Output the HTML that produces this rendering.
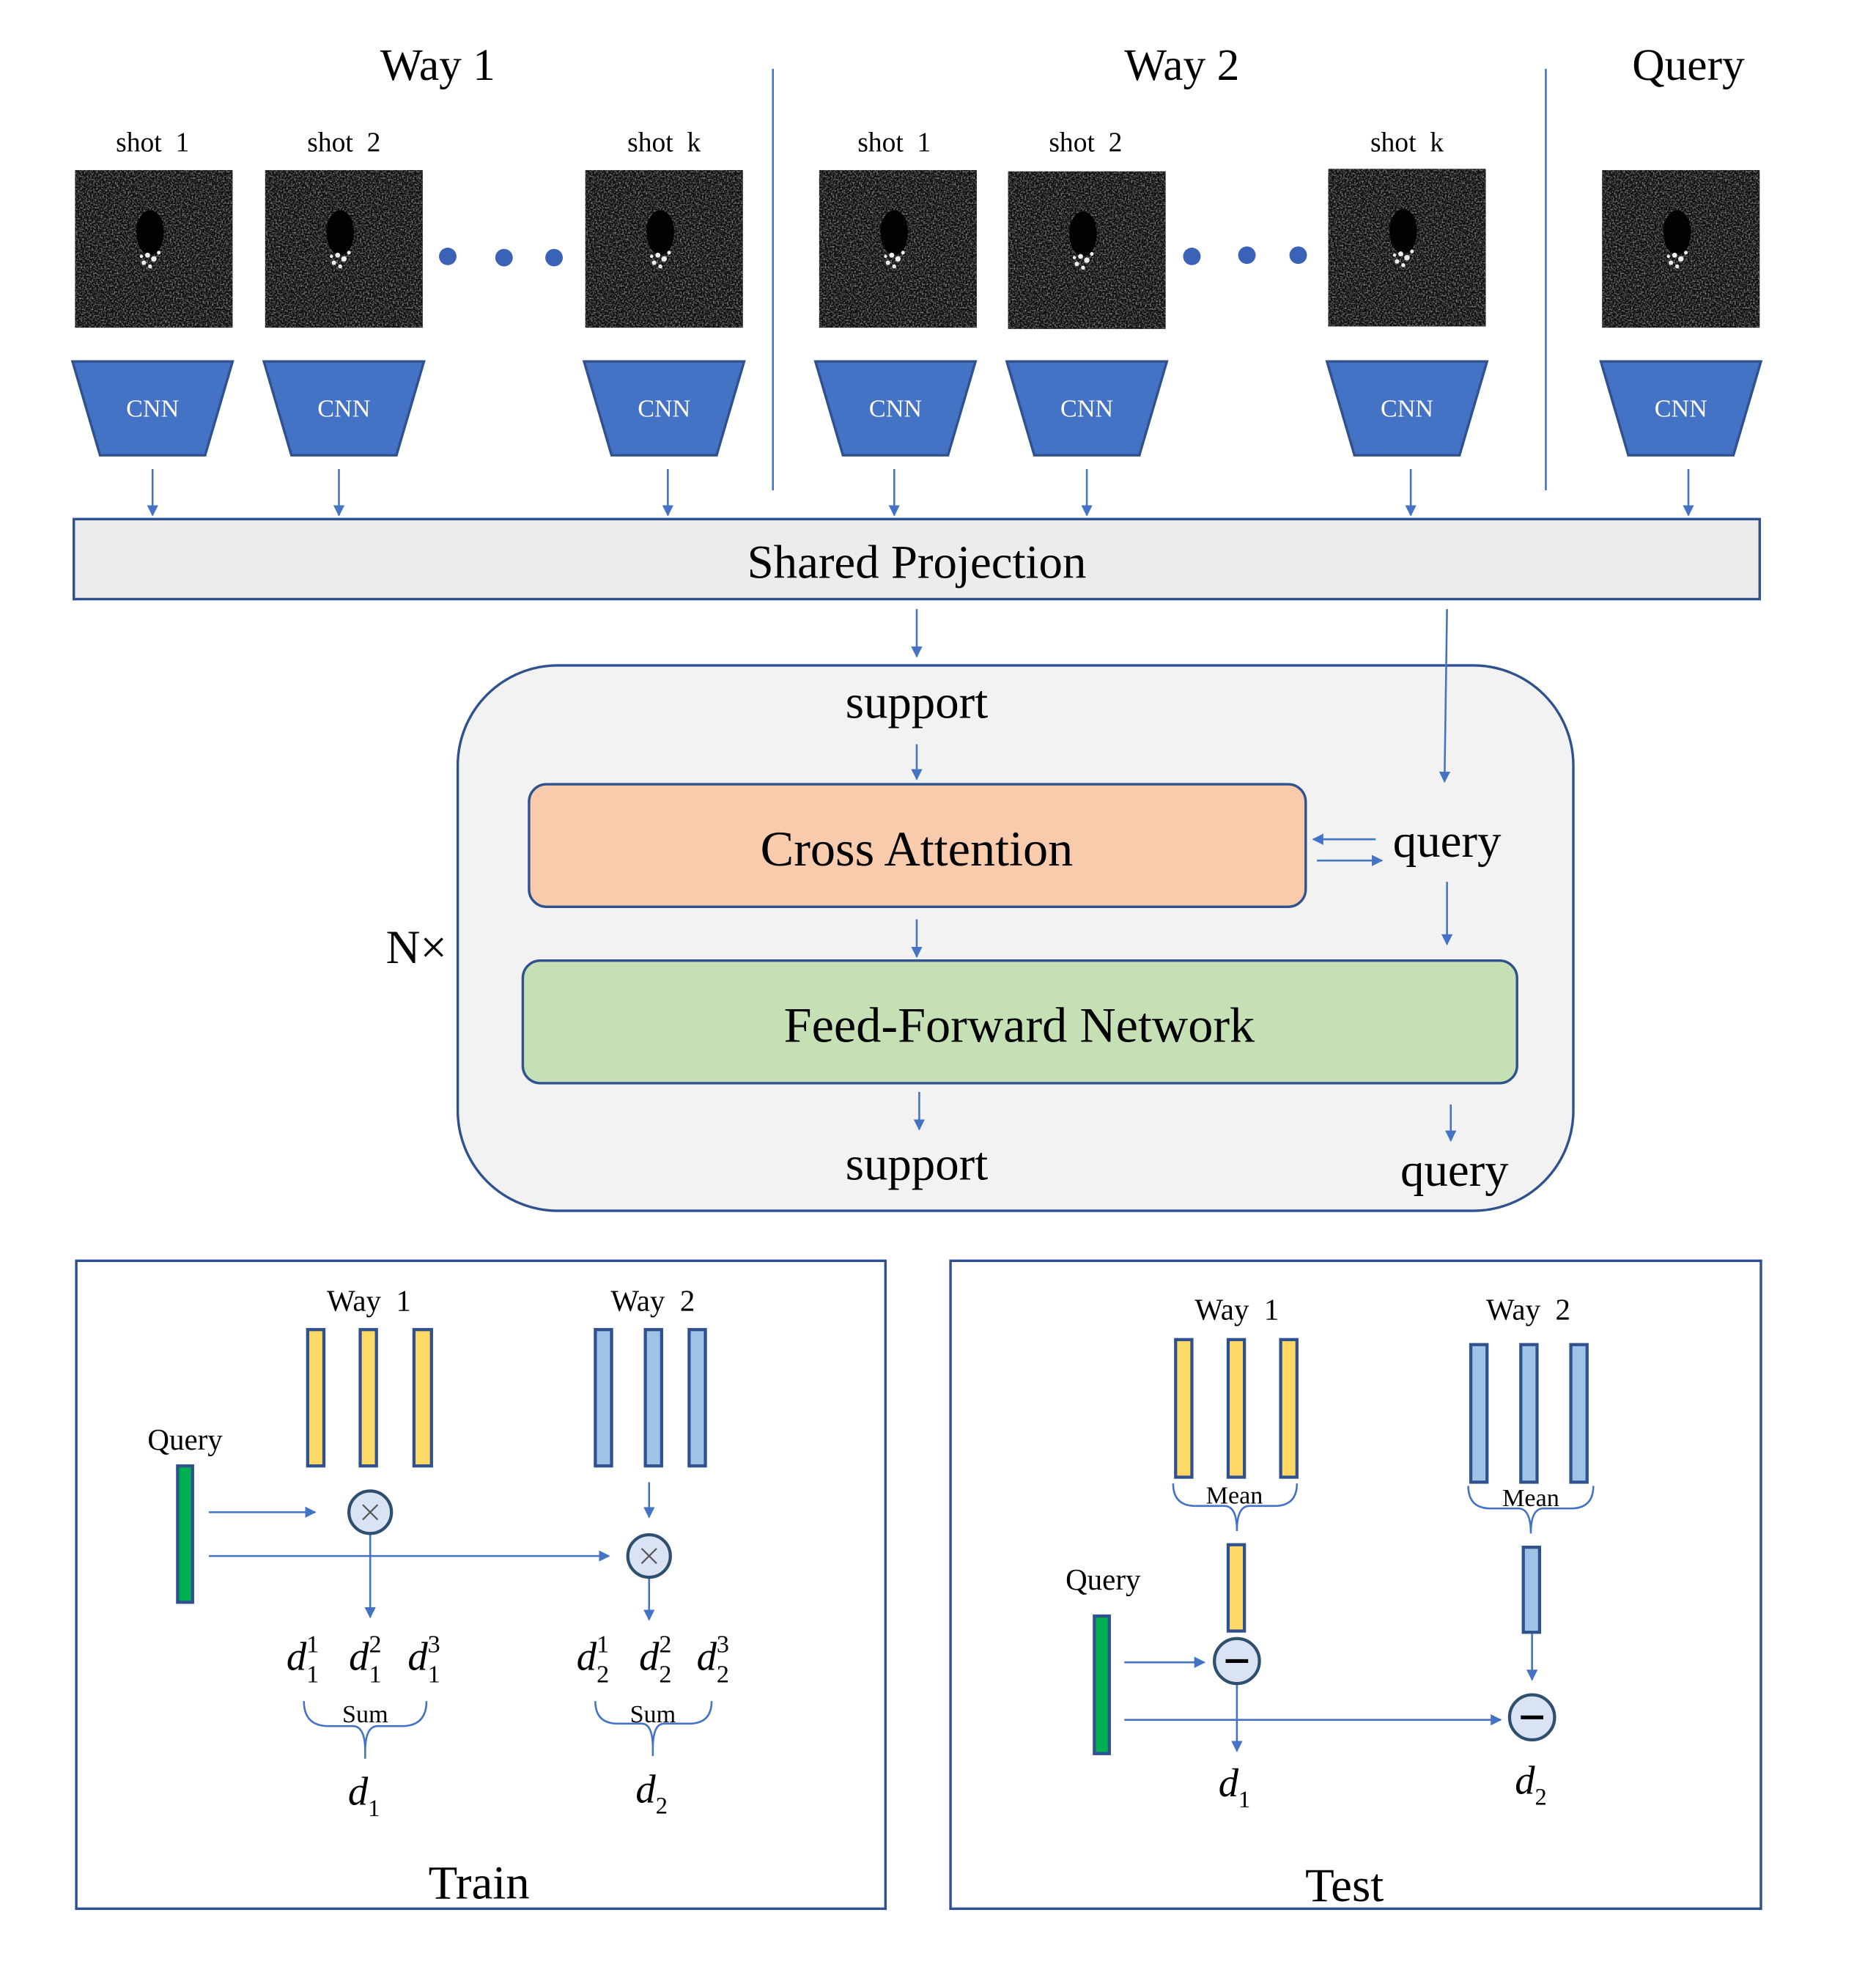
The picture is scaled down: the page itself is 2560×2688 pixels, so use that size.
<!DOCTYPE html>
<html><head><meta charset="utf-8"><style>html,body{margin:0;padding:0;background:#fff}svg{display:block}</style></head>
<body>
<svg width="2560" height="2688" viewBox="0 0 1500 1575" xmlns="http://www.w3.org/2000/svg" font-family="'Liberation Serif', serif">
<defs>
<marker id="a" viewBox="0 0 10 10" refX="9" refY="5" markerWidth="9" markerHeight="9" markerUnits="userSpaceOnUse" orient="auto"><path d="M0,0 L10,5 L0,10z" fill="#4472c4"/></marker>
<filter id="n" x="0" y="0" width="1" height="1"><feTurbulence type="fractalNoise" baseFrequency="0.8" numOctaves="2" seed="3"/><feColorMatrix values="0 0 0 0 0.3  0 0 0 0 0.3  0 0 0 0 0.3  0 0 0 2.2 -0.9"/><feComposite in2="SourceGraphic" operator="in"/></filter>
<g id="img"><rect width="126" height="126" fill="#0c0c0c"/><rect width="126" height="126" fill="#000" filter="url(#n)"/><ellipse cx="60" cy="50" rx="11" ry="18" fill="#020202"/><g fill="#eee"><circle cx="58" cy="68" r="2"/><circle cx="63" cy="71" r="2.2"/><circle cx="55" cy="74" r="1.8"/><circle cx="67" cy="66" r="1.5"/><circle cx="60" cy="77" r="1.6"/><circle cx="53" cy="69" r="1.3"/></g></g>
<g id="cnn"><path d="M0,0 H128 L106,75 H22 Z" fill="#4472c4" stroke="#2f528f" stroke-width="2"/><text x="64" y="44" font-size="20" fill="#fff" text-anchor="middle">CNN</text></g>
</defs>
<g fill="#000" text-anchor="middle">
<text x="350" y="64" font-size="36">Way 1</text>
<text x="945" y="64" font-size="36">Way 2</text>
<text x="1350" y="64" font-size="36">Query</text>
<g font-size="22"><text x="122" y="121">shot&#160;&#160;1</text><text x="275" y="121">shot&#160;&#160;2</text><text x="531" y="121">shot&#160;&#160;k</text><text x="715" y="121">shot&#160;&#160;1</text><text x="868" y="121">shot&#160;&#160;2</text><text x="1125" y="121">shot&#160;&#160;k</text></g>
</g>
<g stroke="#4472c4" stroke-width="1.5"><line x1="618" y1="55" x2="618" y2="392"/><line x1="1236" y1="55" x2="1236" y2="392"/></g>
<use href="#img" x="60" y="136"/><use href="#img" x="212" y="136"/><use href="#img" x="468" y="136"/><use href="#img" x="655" y="136"/><use href="#img" x="806" y="137"/><use href="#img" x="1062" y="135"/><use href="#img" x="1281" y="136"/>
<g fill="#3a63b8"><circle cx="358" cy="205" r="7"/><circle cx="403" cy="206" r="7"/><circle cx="443" cy="206" r="7"/><circle cx="953" cy="205" r="7"/><circle cx="997" cy="204" r="7"/><circle cx="1038" cy="204" r="7"/></g>
<use href="#cnn" x="58" y="289"/><use href="#cnn" x="211" y="289"/><use href="#cnn" x="467" y="289"/><use href="#cnn" x="652" y="289"/><use href="#cnn" x="805" y="289"/><use href="#cnn" x="1061" y="289"/><use href="#cnn" x="1280" y="289"/>
<g stroke="#4472c4" stroke-width="1.5" marker-end="url(#a)" fill="none">
<line x1="122" y1="375" x2="122" y2="412"/><line x1="271" y1="375" x2="271" y2="412"/><line x1="534" y1="375" x2="534" y2="412"/><line x1="715" y1="375" x2="715" y2="412"/><line x1="869" y1="375" x2="869" y2="412"/><line x1="1128" y1="375" x2="1128" y2="412"/><line x1="1350" y1="375" x2="1350" y2="412"/>
</g>
<rect x="59" y="415" width="1348" height="64" fill="#ececec" stroke="#2f4f8f" stroke-width="2"/>
<text x="733" y="462" font-size="38" text-anchor="middle">Shared Projection</text>
<rect x="366" y="532" width="892" height="436" rx="80" fill="#f2f2f2" stroke="#2f528f" stroke-width="2"/>
<rect x="423" y="627" width="621" height="98" rx="14" fill="#f8cbad" stroke="#2f528f" stroke-width="2"/>
<rect x="418" y="768" width="795" height="98" rx="14" fill="#c5e0b4" stroke="#2f528f" stroke-width="2"/>
<g stroke="#4472c4" stroke-width="1.5" marker-end="url(#a)" fill="none">
<line x1="733" y1="487" x2="733" y2="525"/><line x1="1157" y1="487" x2="1155" y2="625"/>
<line x1="733" y1="595" x2="733" y2="623"/>
<line x1="1100" y1="671" x2="1050" y2="671"/><line x1="1053" y1="688" x2="1105" y2="688"/>
<line x1="733" y1="735" x2="733" y2="765"/><line x1="1157" y1="705" x2="1157" y2="755"/>
<line x1="735" y1="873" x2="735" y2="903"/><line x1="1160" y1="883" x2="1160" y2="912"/>
</g>
<g text-anchor="middle" fill="#000">
<text x="733" y="574" font-size="38">support</text>
<text x="733" y="692" font-size="40">Cross Attention</text>
<text x="1157" y="685" font-size="38">query</text>
<text x="815" y="833" font-size="40">Feed-Forward Network</text>
<text x="333" y="770" font-size="38">N×</text>
<text x="733" y="943" font-size="38">support</text>
<text x="1163" y="948" font-size="38">query</text>
</g>
<rect x="61" y="1008" width="647" height="518" fill="none" stroke="#2f4f8f" stroke-width="2"/>
<rect x="760" y="1008" width="648" height="518" fill="none" stroke="#2f4f8f" stroke-width="2"/>
<g text-anchor="middle" fill="#000" font-size="24">
<text x="295" y="1048">Way&#160;&#160;1</text><text x="522" y="1048">Way&#160;&#160;2</text><text x="148" y="1159">Query</text>
<text x="989" y="1055">Way&#160;&#160;1</text><text x="1222" y="1055">Way&#160;&#160;2</text><text x="882" y="1271">Query</text>
<text x="383" y="1518" font-size="38">Train</text><text x="1075" y="1520" font-size="38">Test</text>
<text x="292" y="1377" font-size="20">Sum</text><text x="522" y="1377" font-size="20">Sum</text>
<text x="987" y="1202" font-size="20">Mean</text><text x="1224" y="1204" font-size="20">Mean</text>
</g>
<g stroke="#2f528f" stroke-width="2.5">
<rect x="246" y="1063" width="13" height="109" fill="#ffd966"/><rect x="288" y="1063" width="13" height="109" fill="#ffd966"/><rect x="331" y="1063" width="14" height="109" fill="#ffd966"/>
<rect x="476" y="1063" width="13" height="109" fill="#9dc3e6"/><rect x="516" y="1063" width="13" height="109" fill="#9dc3e6"/><rect x="551" y="1063" width="13" height="109" fill="#9dc3e6"/>
<rect x="142" y="1172" width="12" height="109" fill="#00b050"/>
<rect x="940" y="1071" width="13" height="110" fill="#ffd966"/><rect x="982" y="1071" width="13" height="110" fill="#ffd966"/><rect x="1024" y="1071" width="13" height="110" fill="#ffd966"/>
<rect x="1176" y="1075" width="13" height="110" fill="#9dc3e6"/><rect x="1216" y="1075" width="13" height="110" fill="#9dc3e6"/><rect x="1256" y="1075" width="13" height="110" fill="#9dc3e6"/>
<rect x="982" y="1235" width="13" height="69" fill="#ffd966"/><rect x="1218" y="1237" width="13" height="68" fill="#9dc3e6"/>
<rect x="875" y="1292" width="12" height="110" fill="#00b050"/>
</g>
<g stroke="#4472c4" stroke-width="1.5" fill="none" marker-end="url(#a)">
<line x1="167" y1="1209" x2="252" y2="1209"/><line x1="167" y1="1244" x2="487" y2="1244"/>
<line x1="519" y1="1185" x2="519" y2="1213"/><line x1="296" y1="1227" x2="296" y2="1293"/><line x1="519" y1="1262" x2="519" y2="1295"/>
<line x1="899" y1="1329" x2="963" y2="1329"/><line x1="899" y1="1375" x2="1200" y2="1375"/>
<line x1="1225" y1="1306" x2="1225" y2="1343"/><line x1="989" y1="1346" x2="989" y2="1400"/>
</g>
<g stroke="#4472c4" stroke-width="1.5" fill="none">
<path d="M243,1360 q0,20 20,20 h19 q10,0 10,20 v6 M292,1400 q0,-20 10,-20 h19 q20,0 20,-20"/>
<path d="M476,1360 q0,18 18,18 h19 q9,0 9,20 v6 M522,1398 q0,-20 9,-20 h20 q18,0 18,-18"/>
<path d="M938,1186 q0,18 18,18 h23 q10,0 10,20 M989,1224 q0,-20 10,-20 h20 q18,0 18,-18"/>
<path d="M1174,1188 q0,18 18,18 h22 q10,0 10,20 M1224,1226 q0,-20 10,-20 h22 q18,0 18,-18"/>
</g>
<g stroke="#2f4f6f" stroke-width="2.5" fill="#dae3f3">
<circle cx="296" cy="1209" r="17"/><circle cx="519" cy="1244" r="17"/><circle cx="989" cy="1328" r="18"/><circle cx="1225" cy="1373" r="18"/>
</g>
<g stroke="#555" stroke-width="1.3"><path d="M290,1203 l12,12 M302,1203 l-12,12 M513,1238 l12,12 M525,1238 l-12,12"/></g>
<g stroke="#000" stroke-width="3"><path d="M980,1328 h18 M1216,1373 h18"/></g>
<g font-size="32" font-style="italic" fill="#000" text-anchor="middle">
<text x="242" y="1335">d<tspan font-style="normal" font-size="20" dy="-14">1</tspan><tspan font-style="normal" font-size="20" dx="-10" dy="24">1</tspan></text>
<text x="292" y="1335">d<tspan font-style="normal" font-size="20" dy="-14">2</tspan><tspan font-style="normal" font-size="20" dx="-10" dy="24">1</tspan></text>
<text x="339" y="1335">d<tspan font-style="normal" font-size="20" dy="-14">3</tspan><tspan font-style="normal" font-size="20" dx="-10" dy="24">1</tspan></text>
<text x="474" y="1335">d<tspan font-style="normal" font-size="20" dy="-14">1</tspan><tspan font-style="normal" font-size="20" dx="-10" dy="24">2</tspan></text>
<text x="524" y="1335">d<tspan font-style="normal" font-size="20" dy="-14">2</tspan><tspan font-style="normal" font-size="20" dx="-10" dy="24">2</tspan></text>
<text x="570" y="1335">d<tspan font-style="normal" font-size="20" dy="-14">3</tspan><tspan font-style="normal" font-size="20" dx="-10" dy="24">2</tspan></text>
<text x="291" y="1443">d<tspan font-style="normal" font-size="19" dy="9">1</tspan></text>
<text x="521" y="1441">d<tspan font-style="normal" font-size="19" dy="9">2</tspan></text>
<text x="987" y="1436">d<tspan font-style="normal" font-size="19" dy="9">1</tspan></text>
<text x="1224" y="1434">d<tspan font-style="normal" font-size="19" dy="9">2</tspan></text>
</g>
</svg>
</body></html>
